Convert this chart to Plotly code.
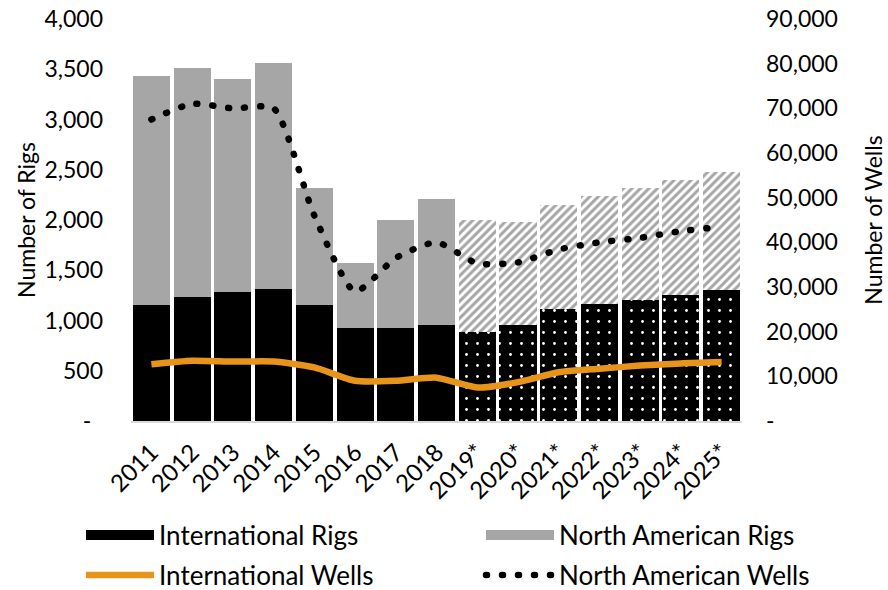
import plotly.graph_objects as go

years = ["2011", "2012", "2013", "2014", "2015", "2016", "2017", "2018",
         "2019*", "2020*", "2021*", "2022*", "2023*", "2024*", "2025*"]
forecast = [False] * 8 + [True] * 7

intl_rigs = [1150, 1230, 1280, 1310, 1150, 930, 930, 960,
             890, 960, 1115, 1165, 1205, 1255, 1305]
total_rigs = [3430, 3510, 3400, 3560, 2315, 1575, 2000, 2210,
              2000, 1980, 2150, 2240, 2320, 2400, 2480]
na_rigs = [t - i for t, i in zip(total_rigs, intl_rigs)]

intl_wells = [12700, 13500, 13300, 13300, 12000, 9000, 9000, 9700,
              7500, 8700, 10900, 11700, 12400, 12900, 13200]
na_wells = [67500, 71000, 70000, 70000, 46000, 29000, 36500, 40000,
            35300, 35500, 38400, 40000, 41000, 42500, 43500]

rig_ticks = [0, 500, 1000, 1500, 2000, 2500, 3000, 3500, 4000]
rig_labels = ["-\u00a0\u00a0", "500", "1,000", "1,500", "2,000", "2,500", "3,000", "3,500", "4,000"]
well_ticks = [0, 10000, 20000, 30000, 40000, 50000, 60000, 70000, 80000, 90000]
well_labels = ["-", "10,000", "20,000", "30,000", "40,000", "50,000", "60,000", "70,000", "80,000", "90,000"]

BLACK = "#000000"
GRAY = "#A6A6A6"
ORANGE = "#E8941A"
FONT = "Lato"

fig = go.Figure()

fig.add_trace(go.Bar(
    x=years, y=intl_rigs, name="International Rigs", showlegend=False,
    marker=dict(color=BLACK, line=dict(width=0),
                pattern=dict(shape=["." if f else "" for f in forecast],
                             bgcolor=BLACK, fgcolor="#FFFFFF", size=11, solidity=0.05,
                             fillmode="replace")),
    yaxis="y",
))
fig.add_trace(go.Bar(
    x=years, y=na_rigs, name="North American Rigs", showlegend=False,
    marker=dict(color=GRAY, line=dict(width=0),
                pattern=dict(shape=["/" if f else "" for f in forecast],
                             bgcolor="#FFFFFF", fgcolor=GRAY, size=6, solidity=0.5,
                             fillmode="replace")),
    yaxis="y",
))

fig.add_trace(go.Scatter(
    x=years, y=intl_wells, name="International Wells", mode="lines",
    line=dict(color=ORANGE, width=6.5, shape="spline", smoothing=0.6),
    yaxis="y2", legend="legend3",
))
fig.add_trace(go.Scatter(
    x=years, y=na_wells, name="North American Wells", mode="lines",
    line=dict(color=BLACK, width=6.5, shape="spline", smoothing=0.6, dash="1px,15px"),
    yaxis="y2", legend="legend4",
))

# legend-only entries for the bar series (wide rectangles as in the original)
fig.add_trace(go.Scatter(x=[None], y=[None], name="International Rigs", mode="lines",
                         line=dict(color=BLACK, width=14), legend="legend"))
fig.add_trace(go.Scatter(x=[None], y=[None], name="North American Rigs", mode="lines",
                         line=dict(color=GRAY, width=14), legend="legend2"))

L, R = 131, 742
T, B = 19, 421
pw = R - L
ph = B - T

def px_x(p):
    return (p - L) / pw

def px_y(p):
    return (B - p) / ph

legend_common = dict(
    orientation="h", xanchor="left", yanchor="middle",
    font=dict(family=FONT, size=26, color="#000000"),
    itemwidth=68, bgcolor="rgba(0,0,0,0)", borderwidth=0,
)

fig.update_layout(
    width=888, height=590,
    margin=dict(l=L, r=888 - R, t=T, b=590 - B, autoexpand=False),
    paper_bgcolor="white", plot_bgcolor="white",
    barmode="stack", bargap=0.09,
    font=dict(family=FONT, size=22, color="#000000"),
    xaxis=dict(
        type="category", tickangle=-45, showgrid=False, showline=True,
        linecolor="#D9D9D9", linewidth=1.5, ticks="", tickfont=dict(size=24),
        ticklabelstandoff=6, automargin=False,
    ),
    yaxis=dict(
        range=[0, 4000], tickvals=rig_ticks, ticktext=rig_labels, showgrid=False,
        zeroline=False, showline=False, ticklabelstandoff=27, tickfont=dict(size=23),
        title=dict(text="Number of Rigs", font=dict(size=23), standoff=2),
        automargin=False,
    ),
    yaxis2=dict(
        range=[0, 90000], tickvals=well_ticks, ticktext=well_labels, showgrid=False,
        zeroline=False, showline=False, overlaying="y", side="right", ticklabelstandoff=23,
        tickfont=dict(size=23),
        title=dict(text="Number of Wells", font=dict(size=23), standoff=28),
        automargin=False,
    ),
    legend=dict(x=px_x(81), y=px_y(535), **legend_common),
    legend2=dict(x=px_x(481), y=px_y(535), **legend_common),
    legend3=dict(x=px_x(81), y=px_y(575), **legend_common),
    legend4=dict(x=px_x(481), y=px_y(575), **legend_common),
)

post = """
document.body.style.margin = '0';
document.body.style.padding = '0';
function roundDots(){
  document.querySelectorAll('path').forEach(function(p){
    var d = p.style.strokeDasharray || '';
    if (d.indexOf('15px') >= 0) { p.style.strokeLinecap = 'round'; }
  });
}
roundDots();
setTimeout(roundDots, 50);
setTimeout(roundDots, 300);
var gd = document.getElementById('{plot_id}');
if (gd && gd.on) { gd.on('plotly_afterplot', roundDots); }
"""

fig.write_html("out.html", post_script=post, config={"displayModeBar": False})
